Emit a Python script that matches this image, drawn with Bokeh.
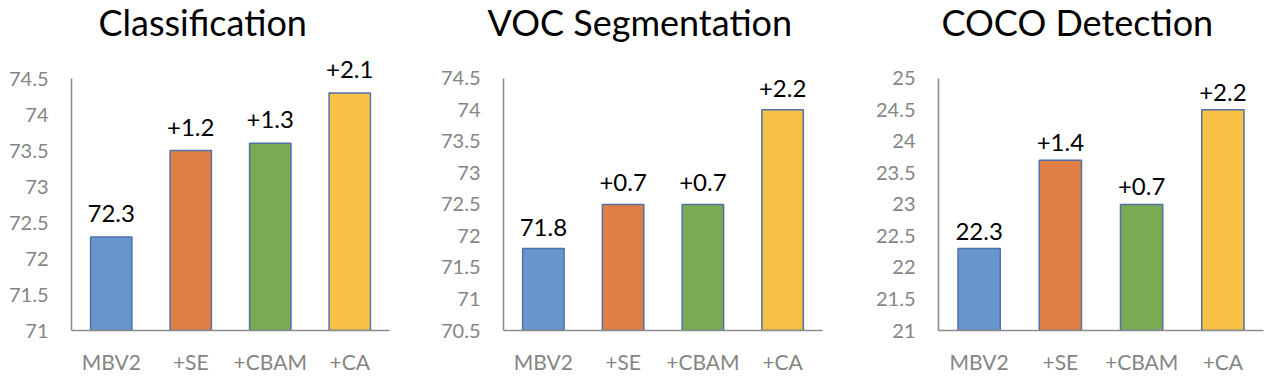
from bokeh.plotting import figure
from bokeh.models import (ColumnDataSource, Range1d, FactorRange, FixedTicker,
                          CustomJSTickFormatter, LabelSet)
from bokeh.core.properties import value
from bokeh.layouts import row
from bokeh.embed import file_html
from bokeh.resources import INLINE

# ---- data ----
categories = ["MBV2", "+SE", "+CBAM", "+CA"]
bar_colors = ["#6796cf", "#e07f43", "#7aab53", "#f6c144"]

cls_title = "Classification"
cls_values = [72.3, 73.5, 73.6, 74.3]
cls_labels = ["72.3", "+1.2", "+1.3", "+2.1"]
cls_ticks = [71, 71.5, 72, 72.5, 73, 73.5, 74, 74.5]

voc_title = "VOC Segmentation"
voc_values = [71.8, 72.5, 72.5, 74.0]
voc_labels = ["71.8", "+0.7", "+0.7", "+2.2"]
voc_ticks = [70.5, 71, 71.5, 72, 72.5, 73, 73.5, 74, 74.5]

coco_title = "COCO Detection"
coco_values = [22.3, 23.7, 23.0, 24.5]
coco_labels = ["22.3", "+1.4", "+0.7", "+2.2"]
coco_ticks = [21, 21.5, 22, 22.5, 23, 23.5, 24, 24.5, 25]

FONT = "Lato"
AXIS_GRAY = "#8c8c8c"
LABEL_GRAY = "#858585"
H = 380
TOP = 42          # frame top (px from canvas top), title lives above it


def panel(title, values, labels, ticks, width, bl, br, bb, axis_top_px, title_offset, label_gap):
    # axis runs from ticks[0] (frame bottom) up to ticks[-1], drawn axis_top_px below the canvas top;
    # the frame reaches higher so the value labels above tall bars are not clipped.
    frame_bottom = H - bb
    span = ticks[-1] - ticks[0]
    px_per_unit = (frame_bottom - axis_top_px) / span
    y_end = ticks[-1] + (axis_top_px - TOP) / px_per_unit
    src = ColumnDataSource(dict(cat=categories, val=values, lab=labels, col=bar_colors))
    p = figure(x_range=FactorRange(*categories, range_padding=0),
               y_range=Range1d(ticks[0], y_end),
               width=width, height=H, output_backend="svg", toolbar_location=None,
               min_border_left=bl, min_border_right=br, min_border_top=TOP, min_border_bottom=bb)
    p.vbar(x="cat", top="val", bottom=ticks[0], width=0.52, source=src,
           fill_color="col", line_color="#4f70a8", line_width=1.5)
    p.add_layout(LabelSet(x="cat", y="val", text="lab", source=src, y_offset=label_gap,
                          text_align="center", text_baseline="alphabetic",
                          text_font=value(FONT), text_font_size=value("24px"),
                          text_color="#000000"))
    p.title.text = title
    p.title.align = "left"
    p.title.offset = title_offset
    p.title.vertical_align = "top"
    p.title.standoff = -6
    p.title.text_font = FONT
    p.title.text_font_size = "36px"
    p.title.text_font_style = "normal"
    p.title.text_color = "#000000"
    p.xgrid.visible = False
    p.ygrid.visible = False
    p.outline_line_color = None
    p.background_fill_color = "white"
    p.border_fill_color = "white"
    for ax in (p.xaxis[0], p.yaxis[0]):
        ax.axis_line_color = AXIS_GRAY
        ax.axis_line_width = 1.6
        ax.major_tick_line_color = None
        ax.minor_tick_line_color = None
        ax.major_tick_out = 0
        ax.major_tick_in = 0
        ax.minor_tick_out = 0
        ax.major_label_text_font = FONT
        ax.major_label_text_color = LABEL_GRAY
    p.yaxis[0].ticker = FixedTicker(ticks=ticks)
    p.yaxis[0].bounds = (ticks[0], ticks[-1])
    p.yaxis[0].formatter = CustomJSTickFormatter(code="return String(tick);")
    p.yaxis[0].major_label_text_font_size = "20px"
    p.yaxis[0].major_label_standoff = 23
    p.xaxis[0].major_label_text_font_size = "21px"
    p.xaxis[0].major_label_standoff = 18
    return p


p1 = panel(cls_title, cls_values, cls_labels, cls_ticks, 420, 71, 31, 50, 78, 27, 15)
p2 = panel(voc_title, voc_values, voc_labels, voc_ticks, 420, 83, 18, 48, 78, -16, 13)
p3 = panel(coco_title, coco_values, coco_labels, coco_ticks, 431, 98, 8, 48, 78, 3, 9)

layout = row(p1, p2, p3)
open("out.html", "w").write(file_html(layout, INLINE))
